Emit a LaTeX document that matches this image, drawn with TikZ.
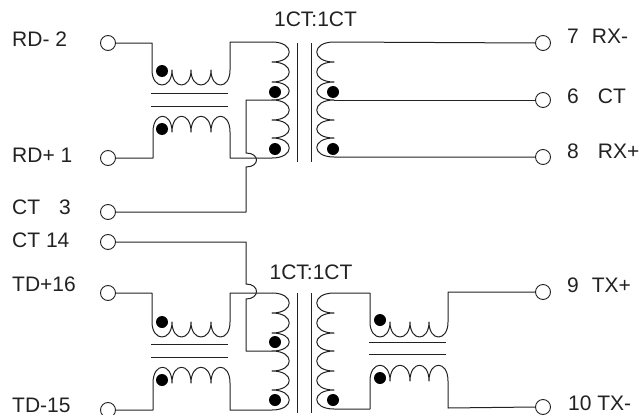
\documentclass[tikz,border=0pt]{standalone}
\usepackage{fontspec}
\setmainfont{Liberation Sans}
\newcommand{\Bl}[2]{.. controls +(23,0) and +(23,0) .. (#1,#2)}
\newcommand{\Br}[2]{.. controls +(-23,0) and +(-23,0) .. (#1,#2)}
\newcommand{\Bd}[2]{.. controls +(0,20) and +(0,20) .. (#1,#2)}
\newcommand{\Bu}[2]{.. controls +(0,-21) and +(0,-21) .. (#1,#2)}
\definecolor{ink}{HTML}{222222}
\tikzset{
  wire/.style={draw=ink,line width=1pt,line join=round},
  core/.style={draw=ink,line width=1pt},
  term/.style={circle,draw=ink,line width=0.9pt,fill=white,minimum size=15pt,inner sep=0pt},
  dotmark/.style={circle,fill=black,minimum size=12pt,inner sep=0pt},
  lbl/.style={anchor=base west,inner sep=0pt,text=ink,font=\fontsize{21}{24}\selectfont},
  ratio/.style={anchor=base,inner sep=0pt,text=ink,font=\fontsize{21}{24}\selectfont}
}
\begin{document}
\begin{tikzpicture}[x=1pt,y=-1pt]
\useasboundingbox (0,0) rectangle (640,415);
\fill[white] (0,0) rectangle (640,415);
% terminals
\node[term] (rdm) at (108,43) {};
\node[term] (rdp) at (108,158) {};
\node[term] (ctt) at (108,212) {};
\node[term] (ctb) at (108,242) {};
\node[term] (tdp) at (108,293) {};
\node[term] (tdm) at (108,410) {};
\node[term] (rxm) at (543,43) {};
\node[term] (ctr) at (543,100) {};
\node[term] (rxp) at (543,157) {};
\node[term] (txp) at (543,292) {};
\node[term] (txm) at (543,407) {};
% labels
\node[lbl] (l1) at (12,46) {RD- 2};
\node[lbl] (l2) at (12,162) {RD+ 1};
\node[lbl] (l3) at (12,214) {CT\hspace{19pt}3};
\node[lbl] (l4) at (12,247) {CT 14};
\node[lbl] (l5) at (12,291) {TD+16};
\node[lbl] (l6) at (12,412) {TD-15};
\node[lbl] (r1) at (567,43) {7\hspace{13pt}RX-};
\node[lbl] (r2) at (567,103) {6\hspace{19pt}CT};
\node[lbl] (r3) at (567,158) {8\hspace{19pt}RX+};
\node[lbl] (r4) at (567,292) {9\hspace{13pt}TX+};
\node[lbl] (r5) at (568,410) {10 TX-};
\node[ratio] (q1) at (315.5,26) {1CT:1CT};
\node[ratio] (q2) at (311,279) {1CT:1CT};
% named corners
\coordinate (a1) at (152,43); \coordinate (a2) at (230,42);
\coordinate (a3) at (153,158); \coordinate (a4) at (230,158);
\coordinate (b1) at (152,293); \coordinate (b2) at (230,293);
\coordinate (b3) at (153,410); \coordinate (b4) at (230,410);
\coordinate (c1) at (272,42); \coordinate (c2) at (272,158); \coordinate (c3) at (272,100);
\coordinate (d1) at (272,293); \coordinate (d2) at (272,410); \coordinate (d3) at (272,351);
\coordinate (s1) at (334,42); \coordinate (s2) at (334,100); \coordinate (s3) at (334,157);
\coordinate (u1) at (370,293); \coordinate (u2) at (448,292);
\coordinate (u3) at (370,409); \coordinate (u4) at (448,408);
\coordinate (u5) at (334,293); \coordinate (u6) at (334,409);
\coordinate (h1) at (246,100); \coordinate (h2) at (246,212);
\coordinate (h3) at (246,242); \coordinate (h4) at (246,351);
% top-left series coils
\draw[wire] (rdm.east) -- (a1) -- (152,70) \Bd{172}{70} \Bd{191}{70} \Bd{211}{70} \Bd{230}{70} -- (a2) -- (c1);
\draw[wire] (rdp.east) -- (a3) -- (153,132) \Bu{172}{132} \Bu{191}{132} \Bu{211}{132} \Bu{230}{132} -- (a4) -- (c2);
\draw[core] (151,93) -- (228,93) (151,106) -- (228,106);
% top transformer
\draw[wire] (c1) \Bl{272}{62} \Bl{272}{82} \Bl{272}{100} \Bl{272}{120} \Bl{272}{138} \Bl{272}{158};
\draw[core] (297,43) -- (297,162) (311,43) -- (311,162);
\draw[wire] (rxm.west) -- (s1) \Br{334}{62} \Br{334}{82} \Br{334}{100} \Br{334}{120} \Br{334}{138} \Br{334}{157} -- (rxp.west);
\draw[wire] (s2) -- (ctr.west);
\draw[wire] (c3) -- (h1) -- (246,153) .. controls (260,153) and (260,167) .. (246,167) -- (h2) -- (ctt.east);
% bottom-left series coils
\draw[wire] (tdp.east) -- (b1) -- (152,322) \Bd{172}{322} \Bd{191}{322} \Bd{211}{322} \Bd{230}{322} -- (b2) -- (d1);
\draw[wire] (tdm.east) -- (b3) -- (153,383) \Bu{172}{383} \Bu{191}{383} \Bu{211}{383} \Bu{230}{383} -- (b4) -- (d2);
\draw[core] (151,344) -- (228,344) (151,357) -- (228,357);
% bottom transformer
\draw[wire] (d1) \Bl{272}{313} \Bl{272}{333} \Bl{272}{351} \Bl{272}{371} \Bl{272}{390} \Bl{272}{410};
\draw[core] (297,293) -- (297,413) (311,293) -- (311,413);
\draw[wire] (u1) -- (u5) \Br{334}{313} \Br{334}{333} \Br{334}{351} \Br{334}{371} \Br{334}{390} \Br{334}{409} -- (u3);
\draw[wire] (ctb.east) -- (h3) -- (246,284) .. controls (260,284) and (260,299) .. (246,299) -- (h4) -- (d3);
% bottom-right series coils
\draw[wire] (u1) -- (370,322) \Bd{390}{322} \Bd{410}{322} \Bd{429}{322} \Bd{448}{322} -- (u2) -- (txp.west);
\draw[wire] (u3) -- (370,381) \Bu{390}{381} \Bu{410}{381} \Bu{429}{381} \Bu{448}{381} -- (u4) -- (txm.west);
\draw[core] (369,342) -- (446,342) (369,354) -- (446,354);
% dots
\foreach \n/\x/\y in {k1/162/71,k2/162/129,k3/275/92,k4/275/149,k5/333/92,k6/333/149,
  k7/162/322,k8/162/380,k9/275/342,k10/275/400,k11/333/400,k12/380/320,k13/380/378}
  \node[dotmark] (\n) at (\x,\y) {};
\end{tikzpicture}
\end{document}
